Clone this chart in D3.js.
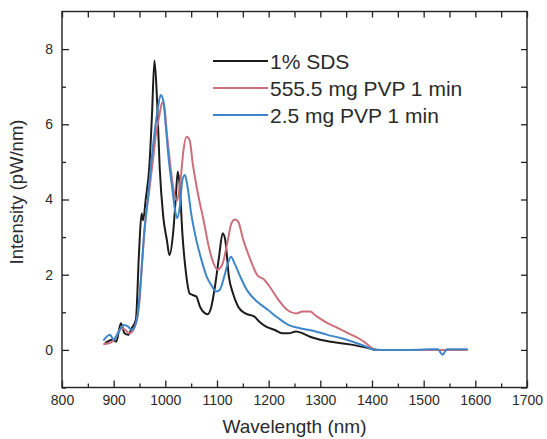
<!DOCTYPE html>
<html lang="en">
<head>
    <meta charset="UTF-8">
    <title>Intensity vs wavelength</title>
    <style type="text/css">
        html, body { padding:0; margin:0; background:#fff; }
        text { font-family: "Liberation Sans", Arial, sans-serif; fill:#2b2b2b; }
    </style>
</head>
<body>
<script src="https://d3js.org/d3.v7.min.js"></script>
<script>
    // data (wavelength in nm, intensity in pW/nm)
    var seriesNames = ['1% SDS', '555.5 mg PVP 1 min', '2.5 mg PVP 1 min'];
    var seriesColors = ['#1c1c1c', '#cc6f7b', '#3f86c8'];

    var sdsWl  = [882, 888, 898, 905, 914, 921, 928, 935, 943, 949, 954, 957, 962, 969, 974, 979, 984, 989, 996, 1003, 1008, 1015, 1020, 1024, 1028, 1033, 1040, 1047, 1053, 1060, 1067, 1077, 1082, 1089, 1097, 1104, 1111, 1116, 1123, 1131, 1141, 1155, 1172, 1182, 1195, 1212, 1226, 1239, 1253, 1266, 1280, 1300, 1334, 1368, 1395, 1408, 1450, 1500, 1585];
    var sdsVal = [0.15, 0.22, 0.27, 0.22, 0.71, 0.44, 0.40, 0.58, 0.80, 2.57, 3.63, 3.45, 4.00, 4.87, 6.20, 7.70, 6.64, 4.87, 3.54, 2.92, 2.52, 3.10, 4.00, 4.74, 4.34, 3.10, 2.04, 1.50, 1.46, 1.42, 1.15, 0.97, 0.95, 1.15, 1.77, 2.48, 3.10, 2.92, 1.95, 1.50, 1.15, 0.97, 0.89, 0.75, 0.62, 0.53, 0.44, 0.44, 0.49, 0.44, 0.35, 0.27, 0.19, 0.12, 0.04, 0.00, 0.00, 0.00, 0.00];

    var pvp555Wl  = [880, 895, 905, 915, 923, 930, 938, 949, 955, 962, 969, 976, 982, 988, 994, 998, 1003, 1010, 1016, 1022, 1030, 1035, 1041, 1047, 1053, 1063, 1074, 1084, 1091, 1101, 1111, 1121, 1128, 1135, 1141, 1151, 1165, 1178, 1192, 1202, 1219, 1236, 1253, 1266, 1280, 1293, 1314, 1334, 1354, 1374, 1388, 1401, 1411, 1450, 1500, 1585];
    var pvp555Val = [0.15, 0.20, 0.35, 0.58, 0.53, 0.44, 0.53, 1.15, 2.30, 3.54, 4.25, 5.05, 5.76, 6.20, 6.58, 6.47, 5.76, 4.87, 4.25, 3.97, 4.60, 5.30, 5.67, 5.58, 4.96, 4.16, 3.45, 2.75, 2.39, 2.13, 2.30, 2.92, 3.37, 3.47, 3.41, 2.92, 2.39, 1.99, 1.86, 1.68, 1.33, 1.06, 0.97, 1.02, 1.02, 0.89, 0.71, 0.58, 0.44, 0.31, 0.18, 0.04, 0.00, 0.00, 0.00, 0.00];

    var pvp25Wl  = [880, 893, 900, 908, 920, 928, 935, 945, 952, 959, 966, 972, 979, 986, 991, 996, 1001, 1006, 1013, 1020, 1023, 1028, 1033, 1038, 1043, 1050, 1060, 1070, 1080, 1091, 1097, 1105, 1114, 1121, 1127, 1134, 1145, 1158, 1178, 1199, 1219, 1239, 1259, 1286, 1314, 1341, 1368, 1388, 1401, 1420, 1460, 1500, 1528, 1533, 1537, 1541, 1545, 1585];
    var pvp25Val = [0.25, 0.40, 0.27, 0.44, 0.66, 0.62, 0.53, 0.80, 1.77, 3.10, 3.99, 4.87, 5.76, 6.47, 6.78, 6.64, 5.93, 5.14, 4.34, 3.63, 3.50, 3.81, 4.52, 4.65, 4.34, 3.63, 2.92, 2.39, 1.95, 1.68, 1.55, 1.59, 1.95, 2.30, 2.48, 2.30, 1.95, 1.59, 1.28, 1.06, 0.84, 0.66, 0.58, 0.51, 0.40, 0.31, 0.19, 0.09, 0.02, 0.00, 0.00, 0.01, 0.02, -0.08, -0.13, -0.05, 0.02, 0.02];

    var xTicks = [800, 900, 1000, 1100, 1200, 1300, 1400, 1500, 1600, 1700];
    var yTicks = [0, 2, 4, 6, 8];

    var chart = {};

    chart.options = {
        width: 547,
        height: 439,
        left: 62,
        right: 527,
        top: 11.5,
        bottom: 387.5
    };

    chart.init = function() {
        var o = this.options;
        this.svg = d3.select('body').append('svg')
            .attr('width', o.width)
            .attr('height', o.height);

        this.x = d3.scaleLinear().domain([800, 1700]).range([o.left, o.right]);
        this.y = d3.scaleLinear().domain([-1, 9]).range([o.bottom, o.top]);

        this.renderLines();
        this.renderAxes();
        this.renderLegend();
    };

    chart.renderAxes = function() {
        var o = this.options, x = this.x, y = this.y, svg = this.svg;
        var minorX = d3.range(850, 1700, 100);
        var minorY = [-1, 1, 3, 5, 7];
        var fmt = d3.format('d');

        function side(axis, ticks, len, transform) {
            var g = svg.append('g').attr('transform', transform)
                .call(axis.tickValues(ticks).tickFormat(fmt).tickSizeInner(len).tickSizeOuter(0));
            g.select('.domain').remove();
            g.selectAll('.tick line').attr('stroke', '#222').attr('stroke-width', 1.3);
            return g;
        }

        // bottom
        var b = side(d3.axisBottom(x), xTicks, -7, 'translate(0,' + o.bottom + ')');
        b.selectAll('.tick text').attr('y', 8).attr('dy', '0.71em')
            .style('font-size', '14px').style('font-family', '"Liberation Sans", Arial, sans-serif').attr('fill', '#2b2b2b');
        side(d3.axisBottom(x), minorX, -4, 'translate(0,' + o.bottom + ')').selectAll('text').remove();
        // top
        side(d3.axisTop(x), xTicks, -6, 'translate(0,' + o.top + ')').selectAll('text').remove();
        side(d3.axisTop(x), minorX, -6, 'translate(0,' + o.top + ')').selectAll('text').remove();
        // left
        var l = side(d3.axisLeft(y), yTicks, -7, 'translate(' + o.left + ',0)');
        l.selectAll('.tick text').attr('x', -9)
            .style('font-size', '14px').style('font-family', '"Liberation Sans", Arial, sans-serif').attr('fill', '#2b2b2b');
        side(d3.axisLeft(y), minorY, -4, 'translate(' + o.left + ',0)').selectAll('text').remove();
        // right
        side(d3.axisRight(y), yTicks, -6, 'translate(' + o.right + ',0)').selectAll('text').remove();
        side(d3.axisRight(y), minorY, -6, 'translate(' + o.right + ',0)').selectAll('text').remove();

        svg.append('rect')
            .attr('x', o.left).attr('y', o.top)
            .attr('width', o.right - o.left).attr('height', o.bottom - o.top)
            .attr('fill', 'none').attr('stroke', '#222').attr('stroke-width', 1.4);

        svg.append('text')
            .attr('x', (o.left + o.right) / 2).attr('y', 433)
            .attr('text-anchor', 'middle')
            .style('font-size', '19px')
            .text('Wavelength (nm)');

        svg.append('text')
            .attr('transform', 'translate(23,192) rotate(-90)')
            .attr('text-anchor', 'middle')
            .style('font-size', '18.5px')
            .text('Intensity (pW/nm)');
    };

    chart.renderLines = function() {
        var x = this.x, y = this.y;
        var line = d3.line()
            .x(function(d) { return x(d[0]); })
            .y(function(d) { return y(d[1]); })
            .curve(d3.curveMonotoneX);

        var sets = [
            d3.zip(sdsWl, sdsVal),
            d3.zip(pvp555Wl, pvp555Val),
            d3.zip(pvp25Wl, pvp25Val)
        ];

        this.svg.append('g').selectAll('path')
            .data(sets)
            .enter().append('path')
            .attr('d', line)
            .attr('fill', 'none')
            .attr('stroke', function(d, i) { return seriesColors[i]; })
            .attr('stroke-width', 2)
            .attr('stroke-linejoin', 'round');
    };

    chart.renderLegend = function() {
        var g = this.svg.append('g').attr('transform', 'translate(213,61)');
        var rows = g.selectAll('g').data(seriesNames).enter().append('g')
            .attr('transform', function(d, i) { return 'translate(0,' + (i * 27) + ')'; });
        rows.append('line')
            .attr('x1', 0).attr('x2', 55)
            .attr('stroke', function(d, i) { return seriesColors[i]; })
            .attr('stroke-width', 2);
        rows.append('text')
            .attr('x', 57).attr('dy', '0.36em')
            .style('font-size', '21px')
            .text(function(d) { return d; });
    };

    chart.init();
</script>
</body>
</html>
